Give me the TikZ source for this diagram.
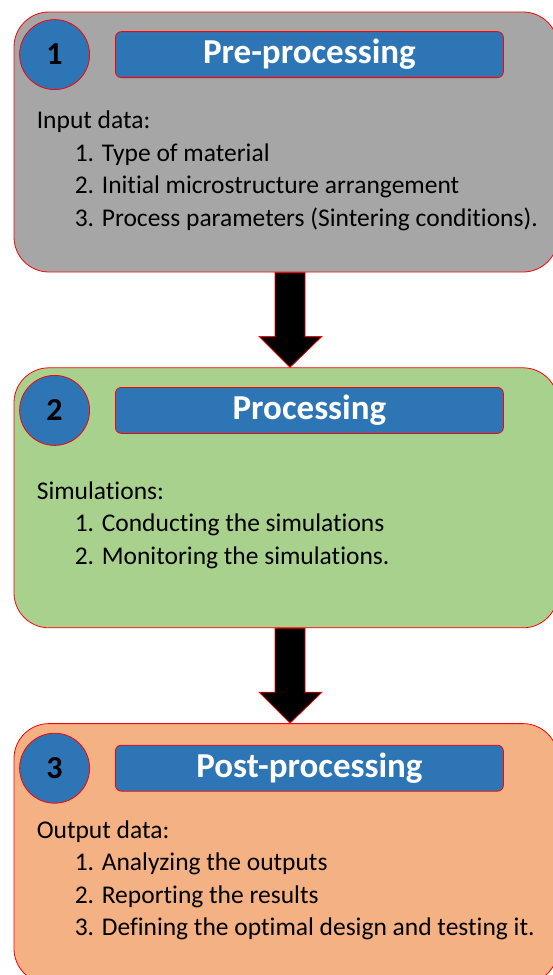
\documentclass[tikz,border=0pt]{standalone}
\usepackage{fontspec}
\setmainfont[Ligatures=NoCommon]{Carlito}
\usetikzlibrary{positioning, calc}
\definecolor{phasegray}{HTML}{A6A6A6}
\definecolor{phasegreen}{HTML}{A9D18E}
\definecolor{phaseorange}{HTML}{F4B183}
\definecolor{barblue}{HTML}{2E75B6}

\begin{document}
\begin{tikzpicture}[x=1pt, y=-1pt,
  phase/.style={rectangle, rounded corners=35pt, draw=red, line width=0.8pt,
    minimum width=544pt, minimum height=260pt, inner sep=0pt},
  badge/.style={circle, draw=red, fill=barblue, line width=0.8pt,
    minimum size=70pt, inner sep=0pt, font=\fontsize{32}{32}\selectfont\bfseries},
  titlebar/.style={rectangle, rounded corners=6pt, draw=red, fill=barblue, line width=0.8pt,
    minimum width=388pt, minimum height=46pt, inner sep=0pt, text=white,
    font=\fontsize{35}{35}\selectfont\bfseries},
  steps/.style={align=left, anchor=north west, inner sep=0pt, font=\fontsize{25.5}{32.5}\selectfont},
  blockarrow/.style={fill=black, draw=red, line width=0.7pt, line join=miter}]
  \useasboundingbox (0,0) rectangle (553,975);

  % the three phases
  \node[phase, fill=phasegray] (pre) at (286,142) {};
  \node[phase, fill=phasegreen, below=95pt of pre] (proc) {};
  \node[phase, fill=phaseorange, below=95pt of proc] (post) {};

  % number badges and title bars
  \node[badge] (b1) at ($(pre.north west)+(41,43)$) {1};
  \node[titlebar, right=25pt of b1] (t1) {Pre-processing};
  \node[badge] (b2) at ($(proc.north west)+(41,43)$) {2};
  \node[titlebar, right=25pt of b2] (t2) {Processing};
  \node[badge] (b3) at ($(post.north west)+(41,45)$) {3};
  \node[titlebar, right=25pt of b3] (t3) {Post-processing};

  % contents
  \node[steps] (s1) at ($(pre.north west)+(23,99)$) {Input data:\\
    \hspace*{38pt}1. Type of material\\
    \hspace*{38pt}2. Initial microstructure arrangement\\
    \hspace*{38pt}3. Process parameters (Sintering conditions).};
  \node[steps] (s2) at ($(proc.north west)+(23,114)$) {Simulations:\\
    \hspace*{38pt}1. Conducting the simulations\\
    \hspace*{38pt}2. Monitoring the simulations.};
  \node[steps] (s3) at ($(post.north west)+(23,97)$) {Output data:\\
    \hspace*{38pt}1. Analyzing the outputs\\
    \hspace*{38pt}2. Reporting the results\\
    \hspace*{38pt}3. Defining the optimal design and testing it.};

  % block arrows between phases
  \filldraw[blockarrow] ($(pre.south)+(-11,0)$) -- ($(pre.south)+(19,0)$)
    -- ($(proc.north)+(19,-31)$) -- ($(proc.north)+(36,-31)$) -- ($(proc.north)+(4,0)$)
    -- ($(proc.north)+(-27,-31)$) -- ($(proc.north)+(-11,-31)$) -- cycle;
  \filldraw[blockarrow] ($(proc.south)+(-11,0)$) -- ($(proc.south)+(19,0)$)
    -- ($(post.north)+(19,-31)$) -- ($(post.north)+(36,-31)$) -- ($(post.north)+(4,0)$)
    -- ($(post.north)+(-27,-31)$) -- ($(post.north)+(-11,-31)$) -- cycle;
\end{tikzpicture}
\end{document}
